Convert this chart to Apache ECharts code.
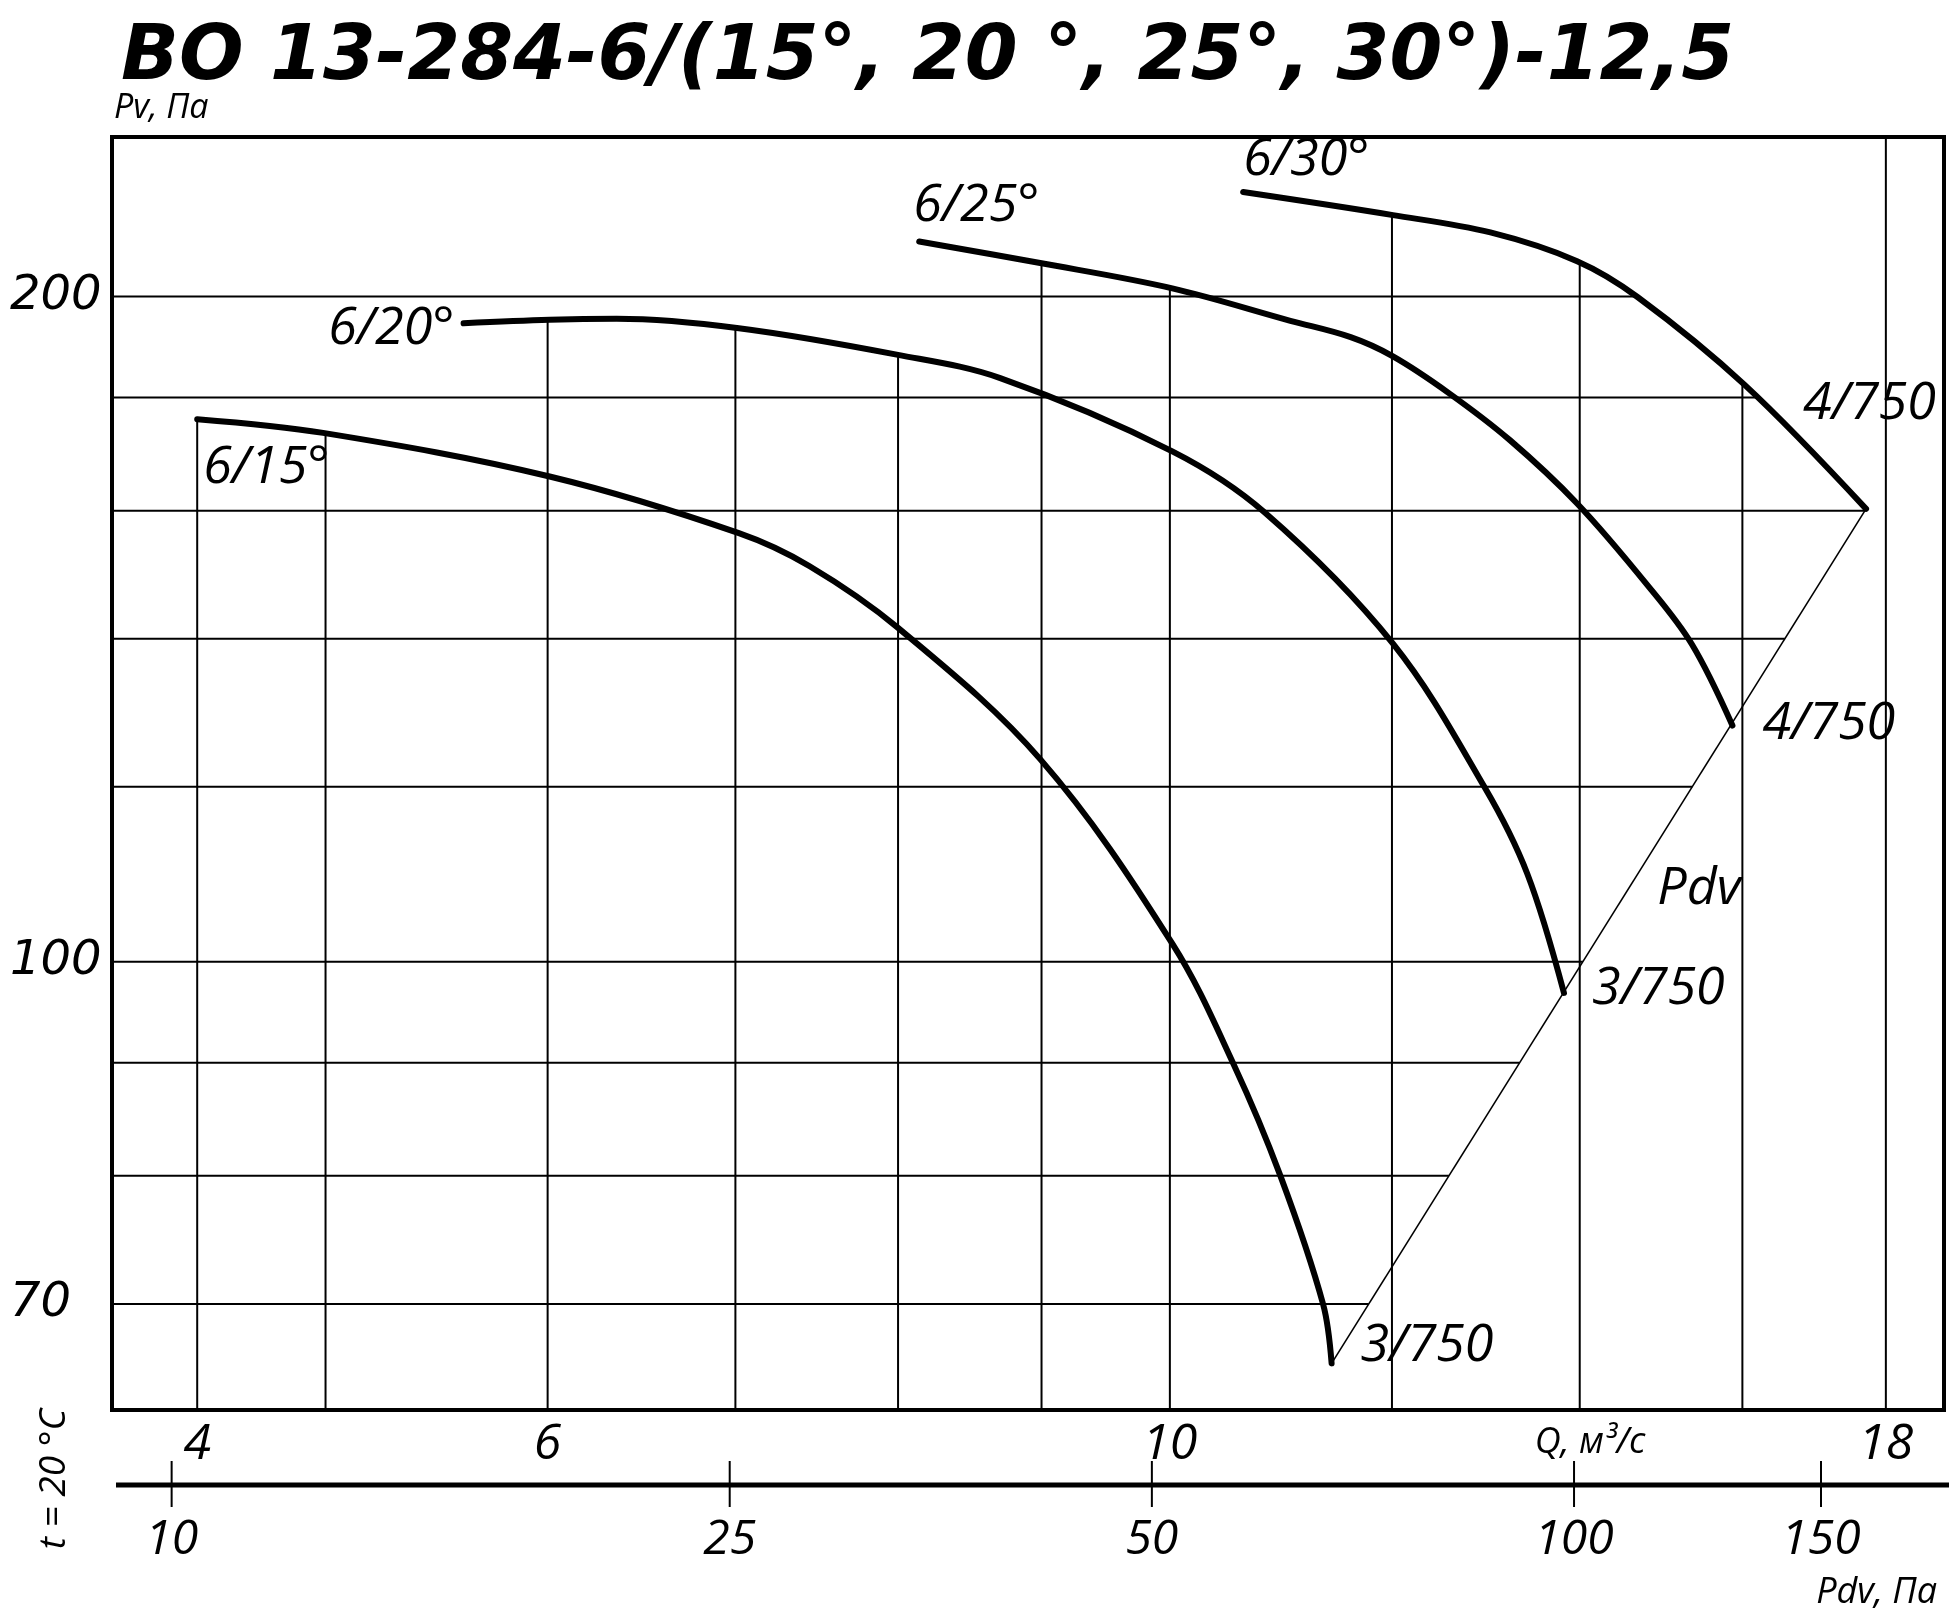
<!DOCTYPE html>
<html><head><meta charset="utf-8">
<script src="https://cdn.jsdelivr.net/npm/echarts@6/dist/echarts.min.js"></script>
<style>html,body{margin:0;padding:0;background:#fff}#c{width:1953px;height:1614px}</style>
</head><body><div id="c"></div>
<script>
const titleText = 'ВО 13-284-6/(15°, 20 °, 25°, 30°)-12,5';
// [Q, m3/s ; Pv, Pa]
const curve15 = [[4.5,176.0],[4.99,173.5],[6.01,165.8],[7.02,156.3],[7.44,151.0],[8.0,141.6],[8.99,123.5],[10.02,101.9],[10.54,89.8],[10.95,80.0],[11.34,70.0],[11.42,65.8]];
const curve20 = [[5.60,194.5],[6.01,195.2],[6.35,195.4],[7.02,193.5],[8.0,188.2],[8.70,183.7],[10.02,170.2],[10.81,159.7],[12.01,139.3],[12.95,119.9],[13.41,109.6],[13.82,96.8]];
const curve25 = [[8.14,211.8],[8.99,207.1],[10.02,201.7],[11.04,195.0],[11.60,191.7],[12.01,187.9],[12.57,180.9],[13.22,172.2],[13.97,161.2],[14.81,147.9],[15.35,139.2],[15.87,127.9]];
const curve30 = [[10.62,223.0],[12.01,217.7],[13.01,213.8],[13.97,207.5],[14.68,199.9],[16.03,182.4],[17.71,160.3]];
const pdvLine = [[11.42,65.8],[17.71,160.3]];
const curveNames = ['6/15°','6/20°','6/25°','6/30°'];
const endLabels = ['3/750','3/750','4/750','4/750'];
const pdvLabelPos = [14.92,107.8];

const qGrid = [4.5,5,6,7,8,9,10,12,14,16,18];
const pGrid = [70,80,90,100,120,140,160,180,200];
const xTickValues = [4.5,6,10,18];
const xTickLabels = ['4','6','10','18'];
const yTickValues = [70,100,200];
const pdvTicks = [10,25,50,100,150];
const pdvCoef = 0.515; // Pdv = pdvCoef * Q^2

const xMin = 4.196, xMax = 18.88, yMin = 62.68, yMax = 236.16;
const curves = [curve15, curve20, curve25, curve30];

function logInterp(c, q){
  if (q < c[0][0]-1e-9 || q > c[c.length-1][0]+1e-9) return null;
  for (let i=0;i<c.length-1;i++){
    const a=c[i], b=c[i+1];
    if (q>=a[0]-1e-9 && q<=b[0]+1e-9){
      const t=(Math.log(q)-Math.log(a[0]))/(Math.log(b[0])-Math.log(a[0]));
      return Math.exp(Math.log(a[1])+t*(Math.log(b[1])-Math.log(a[1])));
    }
  }
  return null;
}
function gridTop(q){
  let m=null;
  curves.forEach(c=>{const v=logInterp(c,q); if(v!==null && (m===null||v>m)) m=v;});
  return m===null?yMax:m;
}
function gridRight(p){
  const a=pdvLine[0], b=pdvLine[1];
  if (p<=b[1]){
    const t=(Math.log(p)-Math.log(a[1]))/(Math.log(b[1])-Math.log(a[1]));
    return Math.exp(Math.log(a[0])+t*(Math.log(b[0])-Math.log(a[0])));
  }
  const c=curve30;
  for (let i=0;i<c.length-1;i++){
    if (c[i][1]>=p && c[i+1][1]<=p){
      const t=(Math.log(p)-Math.log(c[i][1]))/(Math.log(c[i+1][1])-Math.log(c[i][1]));
      return Math.exp(Math.log(c[i][0])+t*(Math.log(c[i+1][0])-Math.log(c[i][0])));
    }
  }
  return xMax;
}

const lbl = (extra)=>Object.assign({fontFamily:'"Open Sans"',fontStyle:'italic',fontSize:52,fill:'#000'},extra);

const chart = echarts.init(document.getElementById('c'));
const option = {
  backgroundColor:'#fff',
  animation:false,
  title:{text:titleText,left:116,top:16,textStyle:{fontFamily:'"DejaVu Sans"',fontWeight:'bold',fontStyle:'italic',fontSize:76,lineHeight:76,color:'#000'}},
  grid:{left:112,top:137,width:1832,height:1273,show:true,borderColor:'#000',borderWidth:4,backgroundColor:'transparent'},
  xAxis:{type:'log',logBase:10,min:xMin,max:xMax,
    axisLine:{show:false},axisTick:{show:false},splitLine:{show:false},
    axisLabel:{customValues:xTickValues,margin:10,fontFamily:'"Open Sans"',fontStyle:'italic',fontSize:50,color:'#000',
      formatter:v=>{let bi=0;xTickValues.forEach((t,i)=>{if(Math.abs(t-v)<Math.abs(xTickValues[bi]-v))bi=i;});return xTickLabels[bi];}}},
  yAxis:{type:'log',logBase:10,min:yMin,max:yMax,
    axisLine:{show:false},axisTick:{show:false},splitLine:{show:false},
    axisLabel:{customValues:yTickValues,align:'left',margin:102,fontFamily:'"DejaVu Sans"',fontStyle:'italic',fontSize:48,color:'#000',
      formatter:v=>String(Math.round(v))}},
  series:[
    {type:'custom',name:'grid',z:1,silent:true,data:[[10,100]],renderItem:(params,api)=>{
      const ch=[];
      qGrid.forEach(q=>{const p1=api.coord([q,yMin]),p2=api.coord([q,gridTop(q)]);
        ch.push({type:'line',shape:{x1:p1[0],y1:p1[1],x2:p2[0],y2:p2[1]},style:{stroke:'#000',lineWidth:2}});});
      pGrid.forEach(p=>{const p1=api.coord([xMin,p]),p2=api.coord([gridRight(p),p]);
        ch.push({type:'line',shape:{x1:p1[0],y1:p1[1],x2:p2[0],y2:p2[1]},style:{stroke:'#000',lineWidth:2}});});
      return {type:'group',children:ch};
    }},
    {type:'line',name:'Pdv',data:pdvLine,showSymbol:false,z:3,lineStyle:{color:'#000',width:1.6},silent:true},
    ...curves.map((c,i)=>({type:'line',name:curveNames[i],data:c,showSymbol:false,smooth:0.35,z:5,silent:true,
      lineStyle:{color:'#000',width:6,cap:'round',join:'round'}})),
    {type:'custom',name:'annotations',z:6,silent:true,data:[[10,100]],renderItem:(params,api)=>{
      const ch=[];
      const txt=(x,y,text,st)=>ch.push({type:'text',x:x,y:y,style:lbl(Object.assign({text:text},st))});
      const s=curves.map(c=>api.coord(c[0])), e=curves.map(c=>api.coord(c[c.length-1]));
      txt(s[0][0]+6,s[0][1]+49,curveNames[0],{align:'left',verticalAlign:'middle'});
      txt(s[1][0]-9,s[1][1]+6,curveNames[1],{align:'right',verticalAlign:'middle'});
      txt(s[2][0]-6,s[2][1]-35,curveNames[2],{align:'left',verticalAlign:'middle'});
      txt(s[3][0]+0,s[3][1]-32,curveNames[3],{align:'left',verticalAlign:'middle'});
      txt(e[0][0]+29,e[0][1]-17,endLabels[0],{align:'left',verticalAlign:'middle'});
      txt(e[1][0]+28,e[1][1]-4,endLabels[1],{align:'left',verticalAlign:'middle'});
      txt(e[2][0]+30,e[2][1]-1,endLabels[2],{align:'left',verticalAlign:'middle'});
      txt(e[3][0]-63,e[3][1]-105,endLabels[3],{align:'left',verticalAlign:'middle'});
      const pp=api.coord(pdvLabelPos);
      txt(pp[0],pp[1],'Pdv',{align:'left',verticalAlign:'middle'});
      // bottom Pdv scale
      const bl=api.coord([xMin,yMin]), br=api.coord([xMax,yMin]);
      const yb=bl[1];
      ch.push({type:'line',shape:{x1:bl[0]+4,y1:yb+75,x2:br[0]+5,y2:yb+75},style:{stroke:'#000',lineWidth:5}});
      pdvTicks.forEach(v=>{const x=api.coord([Math.sqrt(v/pdvCoef),yMin])[0];
        ch.push({type:'line',shape:{x1:x,y1:yb+51,x2:x,y2:yb+97},style:{stroke:'#000',lineWidth:2}});
        txt(x,yb+130,String(v),{align:'center',verticalAlign:'middle',fontSize:48});});
      txt(br[0]-7,yb+183,'Pdv, Па',{align:'right',verticalAlign:'middle',fontSize:36});
      txt(1590,yb+33,'Q, м³/с',{align:'center',verticalAlign:'middle',fontSize:36});
      ch.push({type:'text',x:54,y:yb+69,rotation:Math.PI/2,style:lbl({text:'t = 20 °С',fontSize:37,align:'center',verticalAlign:'middle'})});
      txt(bl[0]+2,108,'Pv, Па',{align:'left',verticalAlign:'middle',fontSize:34});
      return {type:'group',children:ch};
    }}
  ]
};
chart.setOption(option);
</script></body></html>
